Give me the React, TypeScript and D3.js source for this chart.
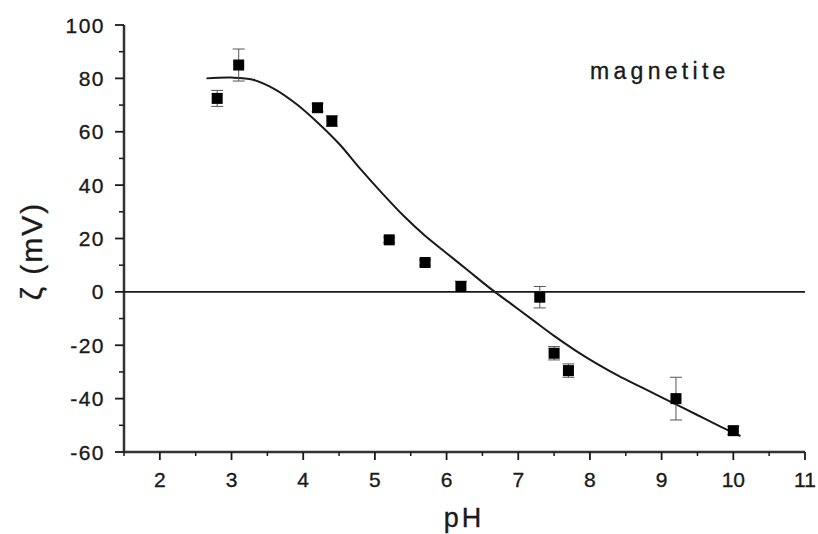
import React from 'react';
import * as d3 from 'd3';

// measured points: pH, zeta (mV), error
const phValues = [2.8, 3.1, 4.2, 4.4, 5.2, 5.7, 6.2, 7.3, 7.5, 7.7, 9.2, 10.0];
const zetaValues = [72.5, 85, 69, 64, 19.5, 11, 2, -2, -23, -29.5, -40, -52];
const zetaErrors = [3, 6, 1.5, 2, 1, 1, 2, 4, 2.5, 2.5, 8, 1.5];

// fitted curve
const fitPh = [2.65, 3.0, 3.3, 3.6, 3.9, 4.2, 4.5, 4.8, 5.1, 5.4, 5.7, 6.0, 6.3, 6.6, 6.9, 7.2, 7.5, 7.8, 8.1, 8.4, 8.7, 9.0, 9.3, 9.6, 9.9, 10.1];
const fitZeta = [80, 80.3, 79.5, 76, 70.5, 63.5, 55.5, 46, 37, 28.5, 21, 14.5, 8, 1.5, -4.5, -10.5, -16.5, -22, -27, -31.5, -35.5, -39.5, -43.5, -47.5, -51.5, -54];

const xTicks = [2, 3, 4, 5, 6, 7, 8, 9, 10, 11];
const yTicks = [-60, -40, -20, 0, 20, 40, 60, 80, 100];

const W = 818;
const H = 534;
const FONT = '"Liberation Sans", Arial, sans-serif';
const INK = '#1a1a1a';

export default function App() {
  const x = d3.scaleLinear().domain([1.5, 11]).range([124, 805]);
  const y = d3.scaleLinear().domain([-60, 100]).range([452, 25]);

  const minorX = d3.range(1.5, 11.01, 0.5).filter(v => !xTicks.includes(v));
  const minorY = d3.range(-50, 100, 20);

  const fitLine = d3.line<number>()
    .x((_, i) => x(fitPh[i]))
    .y(d => y(d))
    .curve(d3.curveCatmullRom.alpha(0.5))(fitZeta) || '';

  const cap = 6;
  const half = 5.5;
  const textStroke = { stroke: INK, strokeWidth: 0.35 };

  return (
    <div style={{ position: 'absolute', left: 0, top: 0 }}>
      <svg width={W} height={H} style={{ display: 'block', background: '#fff' }}>
        {/* axes */}
        <line x1={x(1.5)} x2={x(11)} y1={y(-60)} y2={y(-60)} stroke="#333" strokeWidth={2.5} />
        <line x1={x(1.5)} x2={x(1.5)} y1={y(-60) + 1} y2={y(100)} stroke="#333" strokeWidth={2.5} />

        {xTicks.map(t => (
          <g key={'xt' + t}>
            <line x1={x(t)} x2={x(t)} y1={y(-60)} y2={y(-60) + 8} stroke={INK} strokeWidth={1.8} />
            <text x={x(t)} y={487} textAnchor="middle" fontFamily={FONT} fontSize={21} fill={INK} {...textStroke}>{t}</text>
          </g>
        ))}
        {minorX.map(t => (
          <line key={'xm' + t} x1={x(t)} x2={x(t)} y1={y(-60)} y2={y(-60) + 4} stroke={INK} strokeWidth={1.5} />
        ))}

        {yTicks.map(t => (
          <g key={'yt' + t}>
            <line x1={x(1.5) - 9} x2={x(1.5)} y1={y(t)} y2={y(t)} stroke={INK} strokeWidth={1.8} />
            <text x={105} y={y(t)} dy="0.36em" textAnchor="end" fontFamily={FONT} fontSize={21} letterSpacing={1.5} fill={INK} {...textStroke}>{t}</text>
          </g>
        ))}
        {minorY.map(t => (
          <line key={'ym' + t} x1={x(1.5) - 5} x2={x(1.5)} y1={y(t)} y2={y(t)} stroke={INK} strokeWidth={1.5} />
        ))}

        {/* zero reference line */}
        <line x1={x(1.5)} x2={x(11)} y1={y(0)} y2={y(0)} stroke={INK} strokeWidth={1.8} />

        {/* fitted curve */}
        <path d={fitLine} fill="none" stroke={INK} strokeWidth={2} />

        {/* error bars and markers */}
        {phValues.map((p, i) => {
          const cx = x(p);
          const cy = y(zetaValues[i]);
          const top = y(zetaValues[i] + zetaErrors[i]);
          const bot = y(zetaValues[i] - zetaErrors[i]);
          return (
            <g key={'pt' + i}>
              <line x1={cx} x2={cx} y1={top} y2={bot} stroke="#555" strokeWidth={1} />
              <line x1={cx - cap} x2={cx + cap} y1={top} y2={top} stroke="#555" strokeWidth={1} />
              <line x1={cx - cap} x2={cx + cap} y1={bot} y2={bot} stroke="#555" strokeWidth={1} />
              <rect x={cx - half} y={cy - half} width={half * 2} height={half * 2} fill="#000" />
            </g>
          );
        })}

        {/* labels */}
        <text x={590} y={79} fontFamily={FONT} fontSize={23} letterSpacing={4.3} fill={INK} {...textStroke}>magnetite</text>
        <text x={464} y={527} textAnchor="middle" fontFamily={FONT} fontSize={27} letterSpacing={3} fill={INK} {...textStroke}>pH</text>
        <text transform={`translate(42,251) rotate(-90)`} textAnchor="middle" fontFamily={FONT} fontSize={30} letterSpacing={2} fill={INK} {...textStroke}>ζ (mV)</text>
      </svg>
    </div>
  );
}
